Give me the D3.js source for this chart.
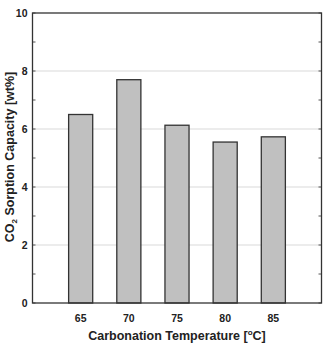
<!DOCTYPE html>
<html>
<head>
<meta charset="utf-8">
<script src="https://cdn.jsdelivr.net/npm/d3@7"></script>
<style>
  body { margin: 0; background: #fff; }
  text { font-family: "Liberation Sans", Arial, sans-serif; font-weight: bold; fill: #222; }
</style>
</head>
<body>
<div id="chart"></div>
<script>
const temperatures = [65, 70, 75, 80, 85];
const capacities = [6.5, 7.7, 6.13, 5.55, 5.73];
const yTicks = [0, 2, 4, 6, 8, 10];
const yMinorTicks = [1, 3, 5, 7, 9];

const width = 328;
const height = 343;
const margin = { top: 13, right: 6.5, bottom: 40, left: 32.5 };

const svg = d3.select("#chart")
  .append("svg")
  .attr("width", width)
  .attr("height", height);

const x = d3.scaleLinear()
  .domain([60, 90])
  .range([margin.left, width - margin.right]);

const y = d3.scaleLinear()
  .domain([0, 10])
  .range([height - margin.bottom, margin.top]);

const barWidth = x(62.5) - x(60);

// gridlines
svg.append("g")
  .selectAll("line")
  .data(yTicks.slice(1, -1))
  .join("line")
  .attr("x1", x(60))
  .attr("x2", x(90))
  .attr("y1", (d) => y(d))
  .attr("y2", (d) => y(d))
  .attr("stroke", "#d9d9d9")
  .attr("stroke-width", 1);

// bars
svg.append("g")
  .selectAll("rect")
  .data(temperatures)
  .join("rect")
  .attr("x", (d) => x(d) - barWidth / 2)
  .attr("y", (d, i) => y(capacities[i]))
  .attr("width", barWidth)
  .attr("height", (d, i) => y(0) - y(capacities[i]))
  .attr("fill", "#c0c0c0")
  .attr("stroke", "#333")
  .attr("stroke-width", 1.3);

// inward ticks on left and right
const allTicks = yTicks.concat(yMinorTicks);
svg.append("g")
  .selectAll("line")
  .data(allTicks)
  .join("line")
  .attr("x1", x(60))
  .attr("x2", x(60) + 3)
  .attr("y1", (d) => y(d))
  .attr("y2", (d) => y(d))
  .attr("stroke", "#555")
  .attr("stroke-width", 1);

svg.append("g")
  .selectAll("line")
  .data(allTicks)
  .join("line")
  .attr("x1", x(90))
  .attr("x2", x(90) - 3)
  .attr("y1", (d) => y(d))
  .attr("y2", (d) => y(d))
  .attr("stroke", "#555")
  .attr("stroke-width", 1);

// frame
svg.append("rect")
  .attr("x", x(60))
  .attr("y", y(10))
  .attr("width", x(90) - x(60))
  .attr("height", y(0) - y(10))
  .attr("fill", "none")
  .attr("stroke", "#333")
  .attr("stroke-width", 1.3);

// y tick labels
svg.append("g")
  .selectAll("text")
  .data(yTicks)
  .join("text")
  .attr("x", x(60) - 5)
  .attr("y", (d) => y(d))
  .attr("dy", "0.35em")
  .attr("text-anchor", "end")
  .attr("font-size", 10.5)
  .text((d) => d);

// x tick labels
svg.append("g")
  .selectAll("text")
  .data(temperatures)
  .join("text")
  .attr("x", (d) => x(d))
  .attr("y", y(0) + 15)
  .attr("dy", "0.35em")
  .attr("text-anchor", "middle")
  .attr("font-size", 10.5)
  .text((d) => d);

// x axis title
const xTitle = svg.append("text")
  .attr("x", 177)
  .attr("y", 340)
  .attr("text-anchor", "middle")
  .attr("font-size", 12.5);
xTitle.append("tspan").text("Carbonation Temperature [");
xTitle.append("tspan").attr("dy", -5).attr("font-size", 8).text("o");
xTitle.append("tspan").attr("dy", 5).text("C]");

// y axis title
const yTitle = svg.append("text")
  .attr("transform", `translate(14,157) rotate(-90)`)
  .attr("text-anchor", "middle")
  .attr("font-size", 12.5);
yTitle.append("tspan").text("CO");
yTitle.append("tspan").attr("dy", 3).attr("font-size", 8).text("2");
yTitle.append("tspan").attr("dy", -3).text(" Sorption Capacity [wt%]");
</script>
</body>
</html>
